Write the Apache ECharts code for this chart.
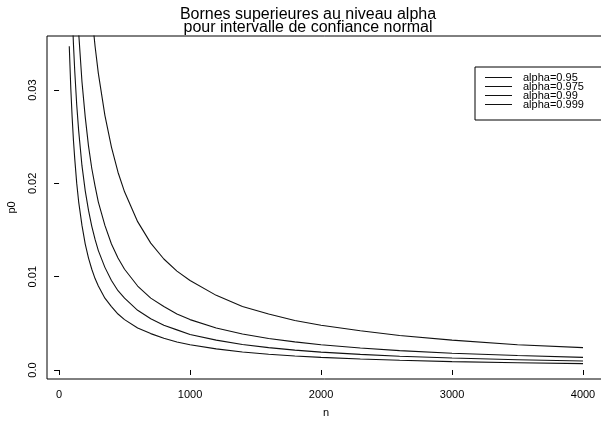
<!DOCTYPE html>
<html>
<head>
<meta charset="utf-8">
<script src="https://cdn.jsdelivr.net/npm/echarts@6/dist/echarts.min.js"></script>
<style>html,body{margin:0;padding:0;background:#fff}#c{width:601px;height:421px}</style>
</head>
<body>
<div id="c"></div>
<script>
const nValues = [78, 90, 100, 110, 120, 135, 150, 175, 200, 225, 250, 275, 300, 350, 400, 450, 500, 600, 700, 800, 900, 1000, 1200, 1400, 1600, 1800, 2000, 2300, 2600, 3000, 3500, 4000];
const p095 = [0.0347, 0.0301, 0.0271, 0.0246, 0.0226, 0.0200, 0.0180, 0.0155, 0.0135, 0.0120, 0.0108, 0.0098, 0.0090, 0.0077, 0.0068, 0.0060, 0.0054, 0.0045, 0.0039, 0.0034, 0.0030, 0.0027, 0.00226, 0.00193, 0.00169, 0.00150, 0.00135, 0.00118, 0.00104, 0.00090, 0.00077, 0.00068];
const p0975 = [0.0492, 0.0427, 0.0384, 0.0349, 0.0320, 0.0284, 0.0256, 0.0219, 0.0192, 0.0171, 0.0154, 0.0140, 0.0128, 0.0110, 0.0096, 0.0085, 0.0077, 0.0064, 0.0055, 0.0048, 0.0043, 0.0038, 0.0032, 0.00274, 0.00240, 0.00213, 0.00192, 0.00167, 0.00148, 0.00128, 0.00110, 0.00096];
const p099 = [0.0694, 0.0601, 0.0541, 0.0492, 0.0451, 0.0401, 0.0361, 0.0309, 0.0271, 0.0240, 0.0216, 0.0197, 0.0180, 0.0155, 0.0135, 0.0120, 0.0108, 0.0090, 0.0077, 0.0068, 0.0060, 0.0054, 0.0045, 0.00386, 0.00338, 0.00301, 0.00271, 0.00235, 0.00208, 0.00180, 0.00155, 0.00135];
const p0999 = [0.122, 0.106, 0.0955, 0.0868, 0.0796, 0.0707, 0.0637, 0.0546, 0.0478, 0.0424, 0.0382, 0.0347, 0.0318, 0.0273, 0.0239, 0.0212, 0.0191, 0.0159, 0.0136, 0.0119, 0.0106, 0.0096, 0.0080, 0.0068, 0.0060, 0.0053, 0.0048, 0.0042, 0.0037, 0.0032, 0.0027, 0.0024];
const seriesNames = ['alpha=0.95', 'alpha=0.975', 'alpha=0.99', 'alpha=0.999'];
const xTicks = [0, 1000, 2000, 3000, 4000];
const yTicks = [0, 0.01, 0.02, 0.03];
const yTickLabels = ['0.0', '0.01', '0.02', '0.03'];
const titleLines = ['Bornes superieures au niveau alpha', 'pour intervalle de confiance normal'];

const FONT = '"Liberation Sans", Arial, sans-serif';
const allSeries = [p095, p0975, p099, p0999];

const chart = echarts.init(document.getElementById('c'), null, {renderer: 'canvas'});
chart.setOption({
  animation: false,
  backgroundColor: '#fff',
  textStyle: {fontFamily: FONT},
  grid: {left: 47, top: 36, right: -4, bottom: 42, show: true, borderColor: '#000', borderWidth: 1, backgroundColor: 'transparent', containLabel: false, outerBoundsMode: 'none'},
  graphic: [
    {type: 'text', x: 308, y: 8, silent: true,
     style: {text: titleLines.join('\n'), textAlign: 'center', textVerticalAlign: 'top', font: '16px ' + FONT, lineHeight: 13, fill: '#000'}}
  ],
  legend: {
    orient: 'vertical', left: 475, top: 67,
    padding: [5, 20, 10, 10],
    borderColor: '#000', borderWidth: 1,
    icon: 'rect',
    itemWidth: 27, itemHeight: 1, itemGap: -2,
    textStyle: {fontSize: 11, lineHeight: 8, color: '#000', fontFamily: FONT, padding: [0, 0, 0, 6]},
    data: seriesNames
  },
  xAxis: {
    type: 'value', min: -92, max: 4168,
    name: 'n', nameLocation: 'middle', nameGap: 28,
    nameTextStyle: {fontSize: 11, color: '#000'},
    axisLine: {show: false},
    axisTick: {show: true, inside: false, length: 5, lineStyle: {color: '#000'}, customValues: xTicks},
    axisLabel: {color: '#000', fontSize: 11, margin: 10, customValues: xTicks, formatter: function (v) { return String(Math.round(v)); }},
    splitLine: {show: false}
  },
  yAxis: {
    type: 'value', min: -0.000965, max: 0.0358,
    name: 'p0', nameLocation: 'middle', nameGap: 30, nameRotate: 90,
    nameTextStyle: {fontSize: 11, color: '#000'},
    axisLine: {show: false},
    axisTick: {show: true, inside: false, length: 5, lineStyle: {color: '#000'}, customValues: yTicks},
    axisLabel: {color: '#000', fontSize: 11, margin: 9, rotate: 90, customValues: yTicks,
      formatter: function (v) { const i = yTicks.findIndex(t => Math.abs(t - v) < 1e-9); return i >= 0 ? yTickLabels[i] : ''; }},
    splitLine: {show: false}
  },
  series: allSeries.map((arr, k) => ({
    type: 'line', name: seriesNames[k],
    data: nValues.map((n, i) => [n, arr[i]]),
    symbol: 'none', smooth: false, clip: true,
    lineStyle: {color: '#111', width: 1.1},
    itemStyle: {color: '#111'}
  }))
});
</script>
</body>
</html>
